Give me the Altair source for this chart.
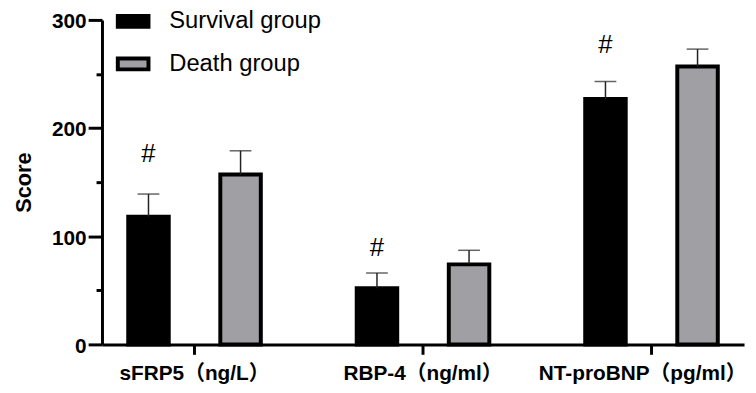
import altair as alt
import pandas as pd

categories = ["sFRP5（ng/L）", "RBP-4（ng/ml）", "NT-proBNP（pg/ml）"]
groups = ["Survival group", "Death group"]
survival_mean = [118, 52, 227]
survival_sd = [21, 14, 16]
death_mean = [157, 74, 257]
death_sd = [22, 13, 16]
hash_y = [176, 89, 277]
y_ticks = [0, 50, 100, 150, 200, 250, 300]

rows = []
for i, c in enumerate(categories):
    rows.append(dict(cat=c, group=groups[0], mean=survival_mean[i], top=survival_mean[i] + survival_sd[i]))
    rows.append(dict(cat=c, group=groups[1], mean=death_mean[i], top=death_mean[i] + death_sd[i]))
df = pd.DataFrame(rows)
hash_df = pd.DataFrame(dict(cat=categories, group=[groups[0]] * 3, y=hash_y, label=["#"] * 3))

FONT = "Liberation Sans, Arial, Noto Sans CJK SC, sans-serif"

x = alt.X(
    "cat:N", sort=categories,
    scale=alt.Scale(paddingInner=0.19, paddingOuter=0),
    axis=alt.Axis(title=None, labelAngle=0, labelFont=FONT, labelFontSize=21,
                  labelFontWeight="bold", labelColor="black", domainWidth=3,
                  domainColor="black", tickWidth=3, tickColor="black", tickSize=10,
                  labelPadding=8, labelLimit=0, grid=False,
                  labelOffset={"condition": {"test": "indexof(datum.value, 'NT') == 0", "value": -9},
                               "value": 0}),
)
xo = alt.XOffset("group:N", sort=groups, scale=alt.Scale(paddingInner=0.56, paddingOuter=0.285))
y = alt.Y(
    "mean:Q",
    scale=alt.Scale(domain=[0, 300], nice=False),
    axis=alt.Axis(
        title="Score", values=y_ticks,
        labelExpr="datum.value % 100 == 0 ? datum.label : ''",
        tickSize={"condition": {"test": "datum.value % 100 == 0", "value": 14}, "value": 6},
        labelFont=FONT, labelFontSize=21, labelFontWeight="bold", labelColor="black",
        labelPadding=2, labelOffset=2, domainWidth=3, domainColor="black", tickWidth=3,
        tickColor="black",
        titleFont=FONT, titleFontSize=22, titleFontWeight="bold", titleColor="black",
        titlePadding=16, grid=False,
    ),
)
color = alt.Color(
    "group:N", sort=groups,
    scale=alt.Scale(domain=groups, range=["#000000", "#a0a0a4"]),
    legend=alt.Legend(
        title=None, orient="none", legendX=14, legendY=-16, padding=0,
        symbolType="M-1,-0.355L1,-0.355L1,0.355L-1,0.355Z", symbolSize=961,
        symbolStrokeColor="black", symbolStrokeWidth=4, symbolOpacity=1,
        labelFont=FONT, labelFontSize=24, labelColor="black", labelOffset=19,
        rowPadding=11,
    ),
)

bars = alt.Chart(df).mark_bar(stroke="black", strokeWidth=4, opacity=1).encode(
    x=x, xOffset=xo, y=y, color=color)
err = alt.Chart(df).mark_rule(color="#222222", strokeWidth=1.5).encode(
    x=x, xOffset=xo, y="mean:Q", y2="top:Q")
caps = alt.Chart(df).mark_tick(color="#222222", thickness=1.5, size=22).encode(
    x=x, xOffset=xo, y="top:Q")
hashes = alt.Chart(hash_df).mark_text(font=FONT, fontSize=26, color="black").encode(
    x=x, xOffset=xo, y="y:Q", text="label:N")

chart = alt.layer(bars, err, caps, hashes).properties(
    width=649, height=328,
    autosize=alt.AutoSizeParams(type="none"),
    padding={"left": 95, "top": 10, "right": 4, "bottom": 39},
).configure_view(stroke=None)

chart.save("out.html", embed_options={"renderer": "svg", "actions": False})
